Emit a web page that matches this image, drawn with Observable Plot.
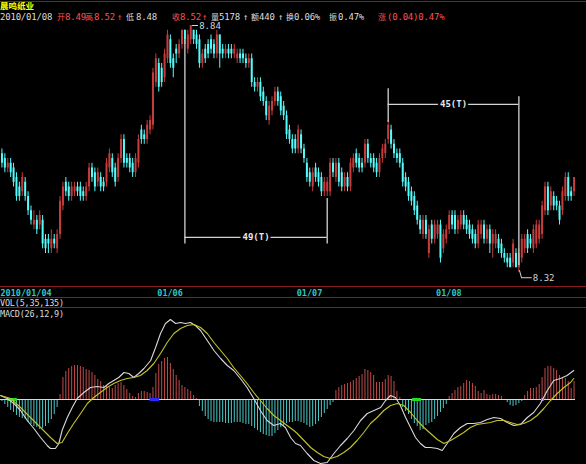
<!DOCTYPE html>
<html><head><meta charset="utf-8">
<script src="https://cdn.jsdelivr.net/npm/d3@7"></script>
<script src="https://cdn.jsdelivr.net/npm/@observablehq/plot@0.6"></script>
<style>
html,body{margin:0;padding:0;background:#000;}
#chart{position:relative;width:586px;height:464px;background:#000;overflow:hidden;font-family:"DejaVu Sans Mono",monospace;}
#chart svg{position:absolute;left:0;top:0;}
.hl{position:absolute;left:0;width:586px;height:1px;background:#8c1c1c;}
.t{position:absolute;white-space:pre;font-size:9px;line-height:8px;letter-spacing:-0.2px;}
.cjk{font-family:"Noto Sans CJK SC",sans-serif;font-size:8px;letter-spacing:0;}
</style></head><body><div id="chart"></div>
<script>
// ---- price bars (5-minute), 晨鸣纸业 ----
const opens = [8.57,8.56,8.54,8.55,8.54,8.52,8.50,8.49,8.51,8.48,
 8.45,8.42,8.43,8.42,8.43,8.39,8.39,8.37,8.39,8.37,
 8.40,8.46,8.51,8.50,8.48,8.49,8.50,8.50,8.49,8.48,
 8.50,8.54,8.53,8.51,8.52,8.51,8.51,8.54,8.56,8.54,
 8.52,8.56,8.60,8.56,8.56,8.55,8.53,8.55,8.62,8.61,
 8.60,8.62,8.63,8.72,8.76,8.75,8.73,8.77,8.81,8.77,
 8.79,8.78,8.80,8.83,8.79,8.81,8.83,8.82,8.81,8.76,
 8.79,8.80,8.81,8.80,8.78,8.82,8.79,8.78,8.79,8.79,
 8.78,8.77,8.78,8.78,8.77,8.76,8.77,8.72,8.71,8.72,
 8.70,8.68,8.64,8.66,8.68,8.70,8.69,8.67,8.65,8.62,
 8.60,8.60,8.58,8.61,8.58,8.55,8.53,8.50,8.54,8.53,
 8.52,8.49,8.49,8.49,8.55,8.52,8.55,8.53,8.50,8.52,
 8.50,8.54,8.57,8.56,8.55,8.55,8.59,8.56,8.56,8.55,
 8.53,8.56,8.57,8.60,8.62,8.59,8.57,8.57,8.55,8.52,
 8.51,8.49,8.48,8.46,8.43,8.40,8.43,8.36,8.42,8.39,
 8.40,8.42,8.37,8.39,8.41,8.44,8.44,8.41,8.42,8.44,
 8.43,8.42,8.41,8.40,8.38,8.40,8.42,8.39,8.41,8.38,
 8.38,8.39,8.38,8.36,8.35,8.35,8.34,8.36,8.33,8.35,
 8.37,8.40,8.39,8.37,8.38,8.39,8.40,8.45,8.50,8.46,
 8.48,8.47,8.46,8.45,8.48,8.52,8.49,8.49];
const highs = [8.58,8.57,8.56,8.56,8.55,8.53,8.51,8.53,8.52,8.49,
 8.46,8.45,8.44,8.45,8.44,8.40,8.40,8.41,8.40,8.41,
 8.48,8.51,8.52,8.51,8.51,8.51,8.51,8.51,8.50,8.51,
 8.55,8.55,8.54,8.54,8.53,8.52,8.56,8.58,8.57,8.55,
 8.57,8.61,8.61,8.57,8.57,8.56,8.57,8.61,8.63,8.62,
 8.64,8.65,8.75,8.78,8.77,8.76,8.79,8.83,8.82,8.78,
 8.80,8.81,8.83,8.83,8.83,8.84,8.83,8.83,8.82,8.79,
 8.80,8.81,8.82,8.81,8.83,8.82,8.80,8.80,8.80,8.80,
 8.80,8.79,8.79,8.79,8.78,8.78,8.78,8.73,8.73,8.73,
 8.71,8.69,8.68,8.69,8.71,8.71,8.70,8.68,8.66,8.63,
 8.61,8.61,8.63,8.62,8.59,8.56,8.54,8.54,8.55,8.54,
 8.53,8.52,8.52,8.56,8.56,8.56,8.56,8.54,8.53,8.53,
 8.56,8.57,8.58,8.57,8.56,8.60,8.60,8.57,8.57,8.56,
 8.57,8.59,8.60,8.64,8.63,8.60,8.58,8.58,8.56,8.53,
 8.52,8.50,8.49,8.47,8.44,8.44,8.44,8.42,8.43,8.43,
 8.43,8.43,8.41,8.42,8.45,8.45,8.45,8.44,8.45,8.45,
 8.44,8.43,8.42,8.41,8.43,8.43,8.43,8.42,8.42,8.41,
 8.41,8.40,8.39,8.37,8.36,8.36,8.39,8.37,8.37,8.40,
 8.40,8.41,8.40,8.42,8.43,8.43,8.47,8.51,8.51,8.50,
 8.49,8.48,8.47,8.50,8.53,8.53,8.50,8.52];
const lows = [8.54,8.53,8.53,8.52,8.50,8.47,8.47,8.48,8.47,8.44,
 8.42,8.41,8.40,8.41,8.37,8.36,8.36,8.36,8.37,8.36,
 8.39,8.45,8.48,8.47,8.47,8.48,8.48,8.47,8.47,8.47,
 8.49,8.51,8.49,8.50,8.49,8.49,8.50,8.53,8.52,8.50,
 8.51,8.55,8.54,8.54,8.53,8.52,8.52,8.54,8.59,8.59,
 8.59,8.61,8.62,8.71,8.70,8.71,8.72,8.76,8.75,8.73,
 8.76,8.77,8.79,8.80,8.78,8.80,8.80,8.79,8.75,8.75,
 8.76,8.77,8.78,8.77,8.77,8.75,8.77,8.77,8.77,8.77,
 8.77,8.76,8.76,8.76,8.75,8.75,8.71,8.70,8.70,8.68,
 8.67,8.64,8.63,8.65,8.67,8.67,8.65,8.64,8.60,8.59,
 8.57,8.57,8.57,8.57,8.55,8.51,8.50,8.49,8.51,8.50,
 8.48,8.48,8.48,8.48,8.52,8.51,8.50,8.49,8.49,8.49,
 8.49,8.53,8.54,8.53,8.53,8.54,8.55,8.54,8.53,8.52,
 8.52,8.55,8.56,8.59,8.58,8.56,8.55,8.54,8.50,8.49,
 8.47,8.46,8.44,8.42,8.40,8.39,8.39,8.35,8.38,8.38,
 8.39,8.34,8.36,8.38,8.40,8.41,8.40,8.40,8.41,8.41,
 8.40,8.39,8.38,8.37,8.37,8.39,8.38,8.38,8.36,8.35,
 8.37,8.36,8.35,8.34,8.33,8.33,8.33,8.33,8.32,8.34,
 8.36,8.36,8.37,8.36,8.37,8.38,8.39,8.44,8.44,8.45,
 8.45,8.45,8.42,8.44,8.47,8.47,8.47,8.48];
const closes = [8.55,8.54,8.55,8.53,8.51,8.48,8.48,8.52,8.48,8.45,
 8.43,8.43,8.41,8.44,8.38,8.37,8.38,8.39,8.38,8.40,
 8.47,8.50,8.49,8.48,8.50,8.50,8.49,8.48,8.48,8.50,
 8.54,8.52,8.50,8.53,8.50,8.50,8.55,8.57,8.53,8.51,
 8.56,8.60,8.55,8.55,8.54,8.53,8.56,8.60,8.60,8.60,
 8.63,8.64,8.74,8.77,8.71,8.72,8.78,8.82,8.76,8.75,
 8.78,8.80,8.83,8.81,8.82,8.84,8.81,8.80,8.76,8.78,
 8.77,8.78,8.79,8.78,8.82,8.78,8.78,8.79,8.78,8.78,
 8.79,8.78,8.77,8.77,8.76,8.77,8.72,8.71,8.72,8.69,
 8.68,8.65,8.67,8.68,8.70,8.68,8.66,8.65,8.61,8.60,
 8.58,8.58,8.62,8.58,8.56,8.52,8.51,8.53,8.52,8.51,
 8.49,8.51,8.51,8.55,8.53,8.55,8.51,8.50,8.52,8.50,
 8.55,8.56,8.55,8.54,8.54,8.59,8.56,8.55,8.54,8.53,
 8.56,8.58,8.59,8.63,8.59,8.57,8.56,8.55,8.51,8.50,
 8.48,8.47,8.45,8.43,8.41,8.43,8.40,8.41,8.39,8.42,
 8.42,8.35,8.40,8.41,8.44,8.42,8.41,8.43,8.44,8.42,
 8.41,8.40,8.39,8.38,8.42,8.42,8.39,8.41,8.38,8.40,
 8.40,8.37,8.36,8.35,8.34,8.33,8.38,8.33,8.36,8.39,
 8.39,8.37,8.38,8.41,8.42,8.42,8.46,8.50,8.45,8.49,
 8.46,8.46,8.43,8.49,8.52,8.48,8.48,8.52];

// ---- x-axis date labels (bar index where each label starts) ----
const dateIdx = [0, 54, 102, 150];
const dateLabel = ["2010/01/04", "01/06", "01/07", "01/08"];

// ---- extreme price annotations ----
const extremeIdx = [65, 178];
const extremePrice = [8.84, 8.32];
const extremeKind = ["high", "low"];

// ---- bar-count brackets ----
const bracketStart = [63, 133];
const bracketEnd = [112, 178];
const bracketLeftTop = [8.81, 8.707];
const bracketLeftBottom = [8.38, 8.636];
const bracketRightTop = [8.476, 8.69];
const bracketRightBottom = [8.38, 8.335];
const bracketLevel = [8.394, 8.674];
const bracketLabel = ["49(T)", "45(T)"];

// ---- MACD(26,12,9) histogram, one value per bar ----
const macdHist = [-0.002,-0.005,-0.008,-0.011,-0.013,-0.016,-0.018,-0.019,-0.020,-0.023,
 -0.025,-0.027,-0.028,-0.030,-0.029,-0.027,-0.024,-0.020,-0.015,-0.008,
 0.005,0.022,0.028,0.031,0.033,0.034,0.034,0.033,0.032,0.030,
 0.029,0.027,0.024,0.020,0.018,0.014,0.013,0.012,0.011,0.014,
 0.016,0.017,0.014,0.010,0.006,0.003,
 0.002,0.006,0.008,0.008,0.007,0.006,
 0.012,0.026,0.035,0.038,0.041,0.042,0.036,0.030,0.024,0.019,0.014,0.012,0.010,0.008,0.004,0.001,
 -0.007,-0.012,-0.017,-0.020,-0.022,-0.023,-0.023,-0.023,-0.023,-0.024,
 -0.024,-0.024,-0.023,-0.023,-0.023,-0.024,-0.025,-0.025,-0.027,-0.029,
 -0.031,-0.033,-0.035,-0.036,-0.037,-0.037,-0.034,-0.031,-0.028,-0.026,
 -0.024,-0.023,-0.023,-0.022,-0.022,-0.023,-0.024,-0.026,-0.028,-0.027,
 -0.025,-0.022,-0.018,-0.014,-0.010,-0.006,-0.003,
 0.009,0.012,0.014,0.015,0.016,0.017,0.019,0.021,0.023,0.025,
 0.030,0.029,0.027,0.024,0.017,0.017,0.017,0.020,0.024,0.023,0.018,0.008,0.002,
 -0.008,-0.012,-0.015,-0.020,-0.024,-0.027,-0.031,-0.030,-0.026,-0.024,
 -0.023,-0.020,-0.017,-0.013,-0.009,-0.005,
 0.003,0.006,0.009,0.012,0.013,0.016,0.019,0.018,0.016,0.013,
 0.008,0.006,0.009,0.005,0.004,0.005,0.005,0.004,0.003,
 -0.001,-0.003,-0.006,-0.007,-0.006,-0.004,-0.002,
 0.004,0.008,0.011,0.011,0.012,0.015,0.022,0.031,0.033,0.033,
 0.031,0.029,0.024,0.022,0.021,0.018,0.011,0.018];

// ---- DIF line (read points: bar position, value) ----
const difIdx = [-0.5,1.8,4.1,6.4,8.7,11,13.3,15.6,16.7,18.4,19.6,20.7,22.5,24.2,25.9,28.2,30.5,32.8,35.1,36.8,
 38.5,40.2,42,43.7,45.4,47.1,48.9,51.2,52.9,54.6,56.3,58,59.8,61.5,63.2,64.9,66.6,68.4,70.7,73,
 75.3,77.6,79.8,82.1,84.4,86.7,89,91.3,93.6,95.9,97.6,99.4,101.1,102.8,105.1,107.4,109.7,112,114.3,116.6,
 118.9,121.2,123.5,125.8,128.1,130.4,132.1,133.8,135.5,137.2,139,140.7,142.4,144.1,145.8,147.6,149.9,151.6,153.3,155.6,
 157.9,160.2,162.5,164.8,167.1,169.4,171.7,174,176.3,178.6,180.9,183.1,185.4,187.8,190,192.3,194.6,196.9];
const difVal = [0.004,0.001,-0.004,-0.011,-0.021,-0.029,-0.038,-0.046,-0.049,-0.049,-0.044,-0.031,-0.018,-0.008,0.001,0.007,0.012,0.013,0.012,0.016,
 0.019,0.022,0.027,0.026,0.022,0.026,0.031,0.039,0.052,0.066,0.076,0.080,0.076,0.077,0.076,0.077,0.074,0.069,0.059,0.049,
 0.041,0.034,0.029,0.021,0.012,0.001,-0.011,-0.021,-0.026,-0.024,-0.028,-0.038,-0.044,-0.046,-0.054,-0.061,-0.064,-0.063,-0.054,-0.046,
 -0.039,-0.031,-0.021,-0.014,-0.011,-0.008,-0.001,0.004,0.002,-0.006,-0.018,-0.028,-0.038,-0.044,-0.048,-0.048,-0.049,-0.051,-0.044,-0.034,
 -0.028,-0.024,-0.024,-0.023,-0.020,-0.018,-0.019,-0.023,-0.026,-0.025,-0.018,-0.013,-0.004,0.009,0.019,0.021,0.024,0.029];

// ---- DEA line (read points) ----
const deaIdx = [-0.5,3,6.4,9.8,13.3,16.7,19,20.7,22.5,24.7,27.1,29.4,31.6,33.9,36.2,38.5,40.8,43.1,45.4,47.7,
 50,52.3,54.6,56.9,59.2,61.5,63.8,66.1,68.4,70.7,73,75.3,77.6,79.8,82.1,84.4,86.7,89,91.3,93.6,
 95.9,98.2,100.5,101.7,104,106.3,108.6,110.8,113.1,115.4,117.7,120,122.3,124.6,126.9,129.2,131.5,133.8,136.1,138.4,
 140.7,143,145.3,147.6,149.9,152.2,154.5,156.8,159,161.3,163.6,165.9,168.2,170.5,172.8,175.1,177.4,179.7,182,184.3,
 186.6,188.9,191.2,193.5,195.8,196.9];
const deaVal = [0.004,0.001,-0.008,-0.018,-0.028,-0.038,-0.044,-0.043,-0.034,-0.024,-0.014,-0.004,0.002,0.007,0.012,0.016,0.019,0.021,0.022,0.024,
 0.029,0.036,0.046,0.057,0.066,0.071,0.074,0.075,0.072,0.066,0.057,0.049,0.041,0.032,0.024,0.016,0.007,-0.001,-0.009,-0.016,
 -0.021,-0.026,-0.031,-0.034,-0.041,-0.048,-0.053,-0.057,-0.059,-0.057,-0.053,-0.048,-0.041,-0.033,-0.024,-0.018,-0.011,-0.006,-0.004,-0.006,
 -0.013,-0.021,-0.028,-0.034,-0.040,-0.044,-0.041,-0.037,-0.033,-0.028,-0.025,-0.024,-0.023,-0.021,-0.021,-0.023,-0.025,-0.024,-0.021,-0.016,
 -0.009,-0.001,0.006,0.012,0.017,0.021];

// ---- coloured cross marks on the MACD zero line ----
const crossFrom = [2.3, 51, 141.4, 185.8];
const crossTo = [5.3, 54.3, 144.5, 186.8];
const crossColor = ["#22dd22", "#2a2aff", "#22dd22", "#8844ff"];

// ---- header texts ----
const titleText = "晨鸣纸业";
const infoText = ["2010/01/08","开","8.49","高","8.52","↑","低","8.48","收","8.52","↑","量","5178","↑","额","440","↑","换","0.06%","振","0.47%","涨","(0.04)0.47%"];
const infoUp = [false,true,true,true,true,true,false,false,true,true,true,false,false,false,false,false,false,false,false,false,false,true,true];
const infoX = [0,57,65,85,94,117,126,136,172,180,202,211,219,243,251,259,278,286,294,329,338,378,387];

// ---------------------------------------------------------------
const UP = "#c83c3c", DOWN = "#54fcfc", WHITE = "#dcdcdc", RED = "#ff5050";
const N = opens.length;
const bars = opens.map((o, i) => ({i, open: o, high: highs[i], low: lows[i], close: closes[i]}));
const upBars = bars.filter(d => d.close > d.open);
const downBars = bars.filter(d => d.close <= d.open);
const xScale = {domain: [-0.5, N - 0.5], range: [0, 575]};
const chart = document.getElementById("chart");
const font = "DejaVu Sans Mono";

const ticks = dateIdx.map((x, k) => ({x, label: dateLabel[k]}));
const extremes = extremeIdx.map((i, k) => ({i, p: extremePrice[k], kind: extremeKind[k]}));
const hiEx = extremes.filter(d => d.kind === "high");
const loEx = extremes.filter(d => d.kind === "low");
const brackets = bracketStart.map((s, k) => ({s, e: bracketEnd[k], lt: bracketLeftTop[k], lb: bracketLeftBottom[k],
  rt: bracketRightTop[k], rb: bracketRightBottom[k], lv: bracketLevel[k], label: bracketLabel[k]}));
const ANN = "#d4d4d4";

const pricePlot = Plot.plot({
  width: 586, height: 464, margin: 0,
  x: {...xScale, axis: null},
  y: {domain: [8.32, 8.84], range: [272, 25], axis: null},
  style: {background: "transparent", overflow: "visible"},
  marks: [
    Plot.ruleX(upBars, {x: "i", y1: "low", y2: "high", stroke: UP}),
    Plot.ruleX(downBars, {x: "i", y1: "low", y2: "high", stroke: DOWN}),
    Plot.ruleX(upBars, {x: "i", y1: "open", y2: "close", stroke: UP, strokeWidth: 2}),
    Plot.ruleX(downBars, {x: "i", y1: "open", y2: "close", stroke: DOWN, strokeWidth: 2}),
    // brackets
    Plot.ruleX(brackets, {x: "s", y1: "lt", y2: "lb", stroke: ANN, strokeWidth: 1.3}),
    Plot.ruleX(brackets, {x: "e", y1: "rt", y2: "rb", stroke: ANN, strokeWidth: 1.3}),
    Plot.ruleY(brackets, {y: "lv", x1: "s", x2: "e", stroke: ANN, strokeWidth: 1.3}),
    Plot.text(brackets, {x: d => (d.s + d.e) / 2, y: "lv", text: "label", fill: "#e8e8e8", stroke: "#000", strokeWidth: 5,
      fontFamily: font, fontSize: 9, fontWeight: "bold"}),
    // extremes
    Plot.ruleY(hiEx, {y: "p", x1: d => d.i + 0.6, x2: d => d.i + 2.7, stroke: ANN}),
    Plot.text(hiEx, {x: d => d.i + 2.9, y: "p", text: d => d.p.toFixed(2), textAnchor: "start", fill: ANN, fontFamily: font, fontSize: 9, dy: 1}),
    Plot.link(loEx, {x1: d => d.i + 0.2, y1: d => d.p + 0.005, x2: d => d.i + 0.9, y2: d => d.p - 0.011, stroke: ANN}),
    Plot.ruleY(loEx, {y: d => d.p - 0.011, x1: d => d.i + 0.9, x2: d => d.i + 4.6, stroke: ANN}),
    Plot.text(loEx, {x: d => d.i + 4.8, y: d => d.p - 0.011, text: d => d.p.toFixed(2), textAnchor: "start", fill: ANN, fontFamily: font, fontSize: 9}),
    // date axis labels
    Plot.text(ticks, {x: "x", text: "label", frameAnchor: "top", dy: 289.5, textAnchor: "start", dx: -1.5,
      fill: "#2cc8c8", fontFamily: font, fontSize: 8.5, fontWeight: "bold"})
  ]
});
chart.appendChild(pricePlot);

const hist = macdHist.map((v, i) => ({i, v}));
const dif = difIdx.map((x, k) => ({x, v: difVal[k]}));
const dea = deaIdx.map((x, k) => ({x, v: deaVal[k]}));
const crossMarks = crossFrom.map((a, k) => Plot.ruleY([0], {x1: a, x2: crossTo[k], stroke: crossColor[k], strokeWidth: 3}));

const macdPlot = Plot.plot({
  width: 586, height: 464, margin: 0,
  x: {...xScale, axis: null},
  y: {domain: [0, 0.08], range: [399, 319], axis: null},
  style: {background: "transparent", overflow: "visible"},
  marks: [
    Plot.ruleX(hist.filter(d => d.v > 0), {x: "i", y1: 0, y2: "v", stroke: "#c44a4a"}),
    Plot.ruleX(hist.filter(d => d.v < 0), {x: "i", y1: 0, y2: "v", stroke: "#4cc8c8"}),
    Plot.ruleY([0], {x1: -0.5, x2: N - 0.5, stroke: "#e0d4d4"}),
    ...crossMarks,
    Plot.line(dif, {x: "x", y: "v", stroke: "#d8d8d8", strokeWidth: 1.1}),
    Plot.line(dea, {x: "x", y: "v", stroke: "#c4c428", strokeWidth: 1.1})
  ]
});
chart.appendChild(macdPlot);

// separator lines
[1, 286, 297, 307].forEach(y => {
  const d = document.createElement("div"); d.className = "hl"; d.style.top = y + "px"; chart.appendChild(d);
});
// header
function addText(txt, x, y, color, extra) {
  const s = document.createElement("div");
  s.className = "t"; s.textContent = txt; s.style.left = x + "px"; s.style.top = y + "px"; s.style.color = color;
  if (/[\u4e00-\u9fff]/.test(txt)) s.classList.add("cjk");
  if (extra) Object.assign(s.style, extra);
  chart.appendChild(s);
}
addText(titleText, 0, 1, "#ffff00", {fontWeight: "bold", fontSize: "8.5px"});
infoText.forEach((t, k) => addText(t, infoX[k], 13, infoUp[k] ? RED : WHITE));
addText("VOL(5,35,135)", 0, 299, WHITE, {fontSize: "8.5px"});
addText("MACD(26,12,9)", 0, 309.5, WHITE, {fontSize: "8.5px"});
</script></body></html>
